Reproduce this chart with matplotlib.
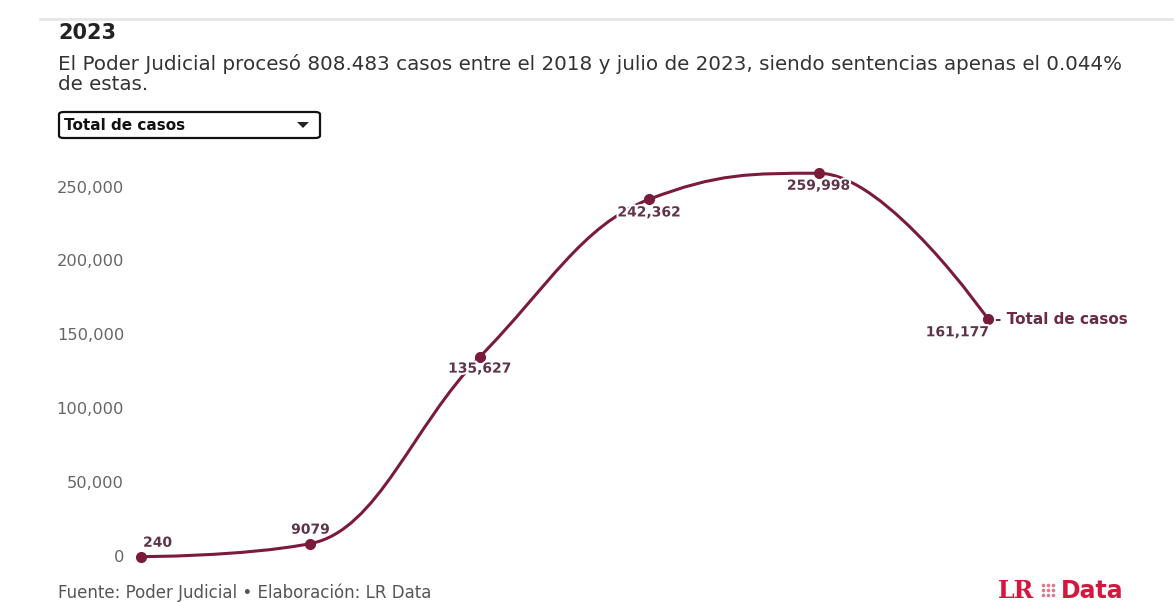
import numpy as np
import matplotlib
matplotlib.use('Agg')
import matplotlib.pyplot as plt
from matplotlib.path import Path
from matplotlib.patches import PathPatch, FancyBboxPatch, Polygon
import matplotlib.patheffects as pe

# data
years = [2018, 2019, 2020, 2021, 2022, 2023]
casos = [240, 9079, 135627, 242362, 259998, 161177]
etiquetas = ['240', '9079', '135,627', '242,362', '259,998', '161,177']
y_ticks = [0, 50000, 100000, 150000, 200000, 250000]

LINE = '#7a1b3a'
LABEL = '#5f3448'
W, H = 1174, 602

fig = plt.figure(figsize=(W / 100, H / 100), dpi=100)
fig.patch.set_facecolor('white')


def fx(px):
    return px / W


def fy(py):
    return 1 - py / H


# plot area: first point at x=141, last at x=988, y=0 at 557, 250k at 188
ax = fig.add_axes([fx(141), fy(557), fx(988) - fx(141), fy(188) - fy(557)])
ax.set_xlim(0, len(years) - 1)
ax.set_ylim(0, 250000)
ax.axis('off')

x = np.arange(len(years), dtype=float)
y = np.array(casos, dtype=float)


# spline control points, same idea as highcharts (smoothing 1.5)
def controls(i):
    s = 1.5
    lx = (s * x[i] + x[i - 1]) / (s + 1)
    ly = (s * y[i] + y[i - 1]) / (s + 1)
    rx = (s * x[i] + x[i + 1]) / (s + 1)
    ry = (s * y[i] + y[i + 1]) / (s + 1)
    corr = (ry - ly) * (rx - x[i]) / (rx - lx) + y[i] - ry
    ly += corr
    ry += corr
    if ly > y[i - 1] and ly > y[i]:
        ly = max(y[i - 1], y[i]); ry = 2 * y[i] - ly
    elif ly < y[i - 1] and ly < y[i]:
        ly = min(y[i - 1], y[i]); ry = 2 * y[i] - ly
    if ry > y[i + 1] and ry > y[i]:
        ry = max(y[i + 1], y[i]); ly = 2 * y[i] - ry
    elif ry < y[i + 1] and ry < y[i]:
        ry = min(y[i + 1], y[i]); ly = 2 * y[i] - ry
    return (lx, ly), (rx, ry)


n = len(x)
left = [(x[0], y[0])] + [None] * (n - 1)
right = [None] * (n - 1) + [(x[-1], y[-1])]
right[0] = (x[0], y[0])
left[-1] = (x[-1], y[-1])
for i in range(1, n - 1):
    left[i], right[i] = controls(i)

verts = [(x[0], y[0])]
codes = [Path.MOVETO]
for k in range(n - 1):
    verts += [right[k], left[k + 1], (x[k + 1], y[k + 1])]
    codes += [Path.CURVE4] * 3
ax.add_patch(PathPatch(Path(verts, codes), facecolor='none', edgecolor=LINE,
                       lw=2.2, clip_on=False, capstyle='round'))
ax.plot(x, y, 'o', color=LINE, ms=7, clip_on=False, zorder=3)

# tick labels
for t in y_ticks:
    ax.text(-0.1, t, f'{t:,}', ha='right', va='center', fontsize=11.7,
            color='#666666')

# data labels (offsets in points)
offs = [(12, 10), (0, 10), (0, -8.5), (0, -9.5), (0, -9), (-22, -9.5)]
for xi, yi, lab, (dx, dy) in zip(x, y, etiquetas, offs):
    ax.annotate(lab, (xi, yi), xytext=(dx, dy), textcoords='offset points',
                ha='center', va='center', fontsize=10, fontweight='bold',
                color=LABEL, annotation_clip=False,
                path_effects=[pe.withStroke(linewidth=3, foreground='white')])

ax.annotate('- Total de casos', (x[-1], y[-1]), xytext=(5, 0),
            textcoords='offset points', ha='left', va='center',
            fontsize=11, fontweight='bold', color='#6b2a45',
            annotation_clip=False)

# header
fig.add_artist(plt.Line2D([fx(40), 1], [fy(19), fy(19)], color='#e6e6e6', lw=2))
fig.text(fx(58), fy(33), '2023', fontsize=15, fontweight='bold',
         color='#222222', va='center')
fig.text(fx(58), fy(64), 'El Poder Judicial procesó 808.483 casos entre el 2018 '
         'y julio de 2023, siendo sentencias apenas el 0.044%', fontsize=14.3,
         color='#333333', va='center')
fig.text(fx(58), fy(85), 'de estas.', fontsize=14.3, color='#333333',
         va='center')

# dropdown box
box = FancyBboxPatch((fx(59), fy(138)), fx(320) - fx(59), fy(112) - fy(138),
                     boxstyle='round,pad=0,rounding_size=0.004',
                     transform=fig.transFigure, facecolor='white',
                     edgecolor='#111111', lw=1.6)
fig.add_artist(box)
fig.text(fx(64), fy(125), 'Total de casos', fontsize=11, fontweight='bold',
         color='#111111', va='center')
fig.add_artist(Polygon([(fx(297), fy(122)), (fx(309), fy(122)), (fx(303), fy(128))],
                       closed=True, transform=fig.transFigure,
                       facecolor='#222222', edgecolor='none'))

# footer
fig.text(fx(58), fy(593), 'Fuente: Poder Judicial • Elaboración: LR Data',
         fontsize=12, color='#555555', va='center')
fig.text(fx(998), fy(591), 'LR', fontsize=17, fontweight='bold',
         family='DejaVu Serif', color='#d3173d', va='center')
for i in range(3):
    for j in range(3):
        fig.add_artist(plt.Line2D([fx(1043 + 5 * i)], [fy(585 + 5 * j)], marker='o',
                                  ms=1.6, color='#e07a90', lw=0))
fig.text(fx(1061), fy(591), 'Data', fontsize=17, fontweight='bold',
         color='#d3173d', va='center')

fig.savefig('out.png', dpi=100, facecolor='white')
